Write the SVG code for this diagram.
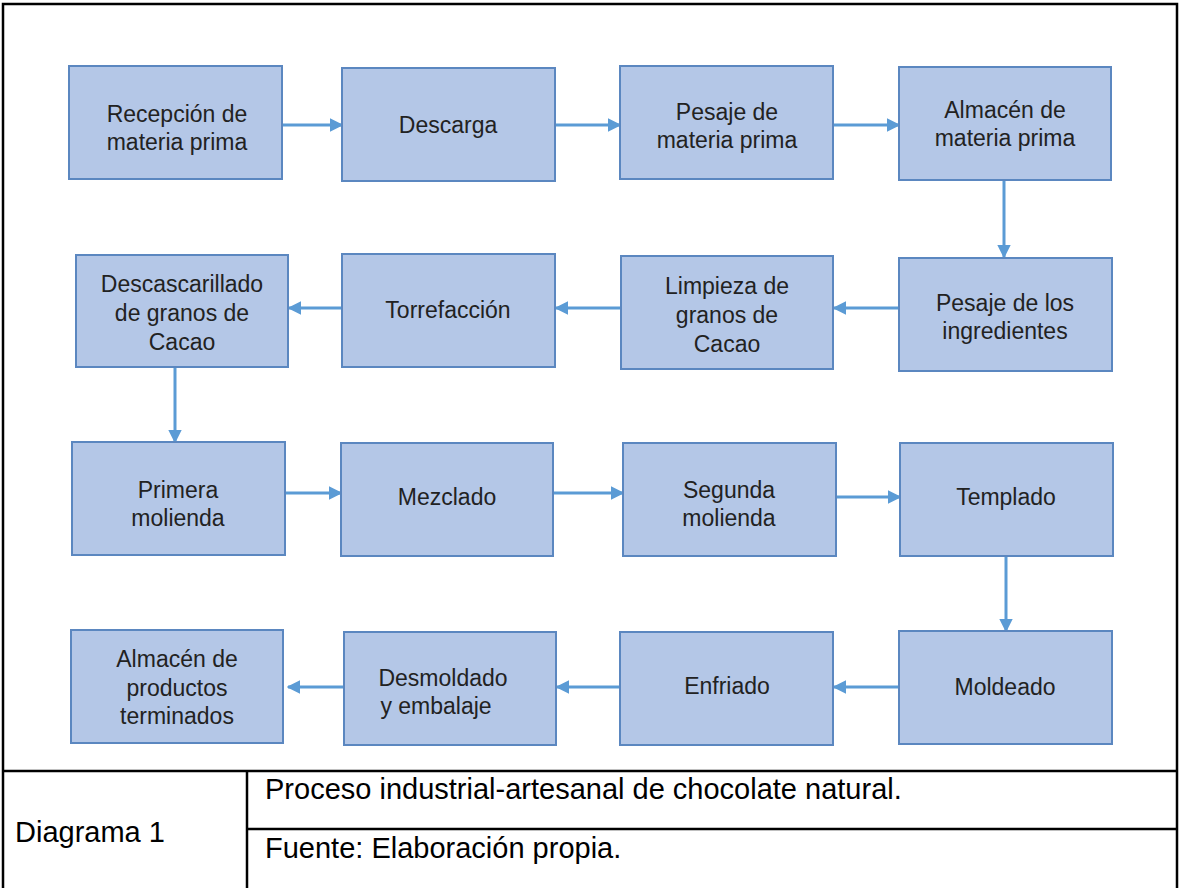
<svg xmlns="http://www.w3.org/2000/svg" width="1180" height="888" viewBox="0 0 1180 888">
<defs>
<marker id="ah" viewBox="0 0 10 10" refX="9" refY="5" markerWidth="4.5" markerHeight="4.5" orient="auto" markerUnits="strokeWidth"><path d="M0,0 L10,5 L0,10 z" fill="#5B9BD5"/></marker>
<style>
.box{fill:#B4C7E7;stroke:#5B87C0;stroke-width:2}
.t{font-family:"Liberation Sans",Arial,sans-serif;font-size:23px;fill:#222;text-anchor:middle}
.c{stroke:#5B9BD5;stroke-width:3;fill:none;marker-end:url(#ah)}
.frame{stroke:#000;stroke-width:2.5;fill:none}
.lt{font-family:"Liberation Sans",Arial,sans-serif;font-size:29px;fill:#000}
</style>
</defs>
<rect width="1180" height="888" fill="#fff"/>
<g id="frame">
<path class="frame" d="M3,888 V4 H1177 V888"/>
<line class="frame" x1="3" y1="771" x2="1177" y2="771"/>
<line class="frame" x1="247" y1="771" x2="247" y2="888"/>
<line class="frame" x1="247" y1="829" x2="1177" y2="829"/>
<text class="lt" x="15" y="842">Diagrama 1</text>
<text class="lt" x="265" y="799">Proceso industrial-artesanal de chocolate natural.</text>
<text class="lt" x="265" y="858">Fuente: Elaboración propia.</text>
</g>
<g id="connectors">
<line class="c" x1="282" y1="125" x2="342" y2="125"/>
<line class="c" x1="555" y1="125" x2="620" y2="125"/>
<line class="c" x1="833" y1="125" x2="899" y2="125"/>
<line class="c" x1="1004" y1="180" x2="1004" y2="257"/>
<line class="c" x1="899" y1="308" x2="834" y2="308"/>
<line class="c" x1="621" y1="308" x2="556" y2="308"/>
<line class="c" x1="342" y1="308" x2="289" y2="308"/>
<line class="c" x1="175" y1="367" x2="175" y2="442"/>
<line class="c" x1="285" y1="493" x2="341" y2="493"/>
<line class="c" x1="553" y1="493" x2="623" y2="493"/>
<line class="c" x1="831" y1="497" x2="900" y2="497"/>
<line class="c" x1="1006" y1="556" x2="1006" y2="631"/>
<line class="c" x1="899" y1="687" x2="834" y2="687"/>
<line class="c" x1="620" y1="687" x2="557" y2="687"/>
<line class="c" x1="344" y1="687" x2="288" y2="687"/>
</g>
<g id="n1"><rect class="box" x="69" y="66" width="213" height="113"/><text class="t" x="177" y="122">Recepción de</text><text class="t" x="177" y="150">materia prima</text></g>
<g id="n2"><rect class="box" x="342" y="68" width="213" height="113"/><text class="t" x="448" y="133">Descarga</text></g>
<g id="n3"><rect class="box" x="620" y="66" width="213" height="113"/><text class="t" x="727" y="120">Pesaje de</text><text class="t" x="727" y="148">materia prima</text></g>
<g id="n4"><rect class="box" x="899" y="67" width="212" height="113"/><text class="t" x="1005" y="118">Almacén de</text><text class="t" x="1005" y="146">materia prima</text></g>
<g id="n5"><rect class="box" x="76" y="255" width="212" height="112"/><text class="t" x="182" y="292">Descascarillado</text><text class="t" x="182" y="321">de granos de</text><text class="t" x="182" y="350">Cacao</text></g>
<g id="n6"><rect class="box" x="342" y="254" width="213" height="113"/><text class="t" x="448" y="318">Torrefacción</text></g>
<g id="n7"><rect class="box" x="621" y="256" width="212" height="113"/><text class="t" x="727" y="294">Limpieza de</text><text class="t" x="727" y="323">granos de</text><text class="t" x="727" y="352">Cacao</text></g>
<g id="n8"><rect class="box" x="899" y="258" width="213" height="113"/><text class="t" x="1005" y="311">Pesaje de los</text><text class="t" x="1005" y="339">ingredientes</text></g>
<g id="n9"><rect class="box" x="72" y="442" width="213" height="113"/><text class="t" x="178" y="498">Primera</text><text class="t" x="178" y="526">molienda</text></g>
<g id="n10"><rect class="box" x="341" y="443" width="212" height="113"/><text class="t" x="447" y="505">Mezclado</text></g>
<g id="n11"><rect class="box" x="623" y="443" width="213" height="113"/><text class="t" x="729" y="498">Segunda</text><text class="t" x="729" y="526">molienda</text></g>
<g id="n12"><rect class="box" x="900" y="443" width="213" height="113"/><text class="t" x="1006" y="505">Templado</text></g>
<g id="n13"><rect class="box" x="71" y="630" width="212" height="113"/><text class="t" x="177" y="667">Almacén de</text><text class="t" x="177" y="696">productos</text><text class="t" x="177" y="724">terminados</text></g>
<g id="n14"><rect class="box" x="344" y="632" width="212" height="113"/><text class="t" x="443" y="686">Desmoldado</text><text class="t" x="436" y="714">y embalaje</text></g>
<g id="n15"><rect class="box" x="620" y="632" width="213" height="113"/><text class="t" x="727" y="694">Enfriado</text></g>
<g id="n16"><rect class="box" x="899" y="631" width="213" height="113"/><text class="t" x="1005" y="695">Moldeado</text></g>
</svg>
